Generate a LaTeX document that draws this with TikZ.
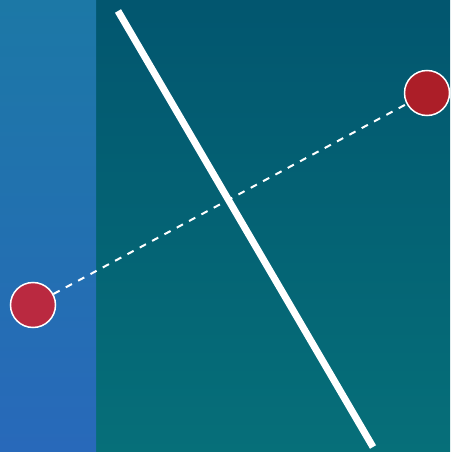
\documentclass[tikz,border=0pt]{standalone}
\definecolor{stripTop}{HTML}{1C78A6}
\definecolor{stripBot}{HTML}{2869BA}
\definecolor{bgTop}{HTML}{02566F}
\definecolor{bgBot}{HTML}{066F79}
\definecolor{redA}{HTML}{BA2940}
\definecolor{redB}{HTML}{AC1E28}
\tikzset{
  endpoint/.style={circle, minimum size=45pt, inner sep=0pt, draw=white, line width=1.5pt},
  mirror/.style={white, line width=7pt},
  ray/.style={white, line width=2pt, dash pattern=on 7pt off 7pt}
}
\begin{document}
\begin{tikzpicture}[x=1pt,y=-1pt]
\useasboundingbox (0,0) rectangle (450,452);
\shade[top color=bgTop, bottom color=bgBot] (0,0) rectangle (450,452);
\shade[top color=stripTop, bottom color=stripBot] (0,0) rectangle (96,452);
\coordinate (m1) at (118,11);
\coordinate (m2) at (373,447);
\draw[mirror] (m1) -- (m2);
\node[endpoint, fill=redA] (p1) at (33,305) {};
\node[endpoint, fill=redB] (p2) at (427,93) {};
\draw[ray] (p1) -- (p2);
\end{tikzpicture}
\end{document}
